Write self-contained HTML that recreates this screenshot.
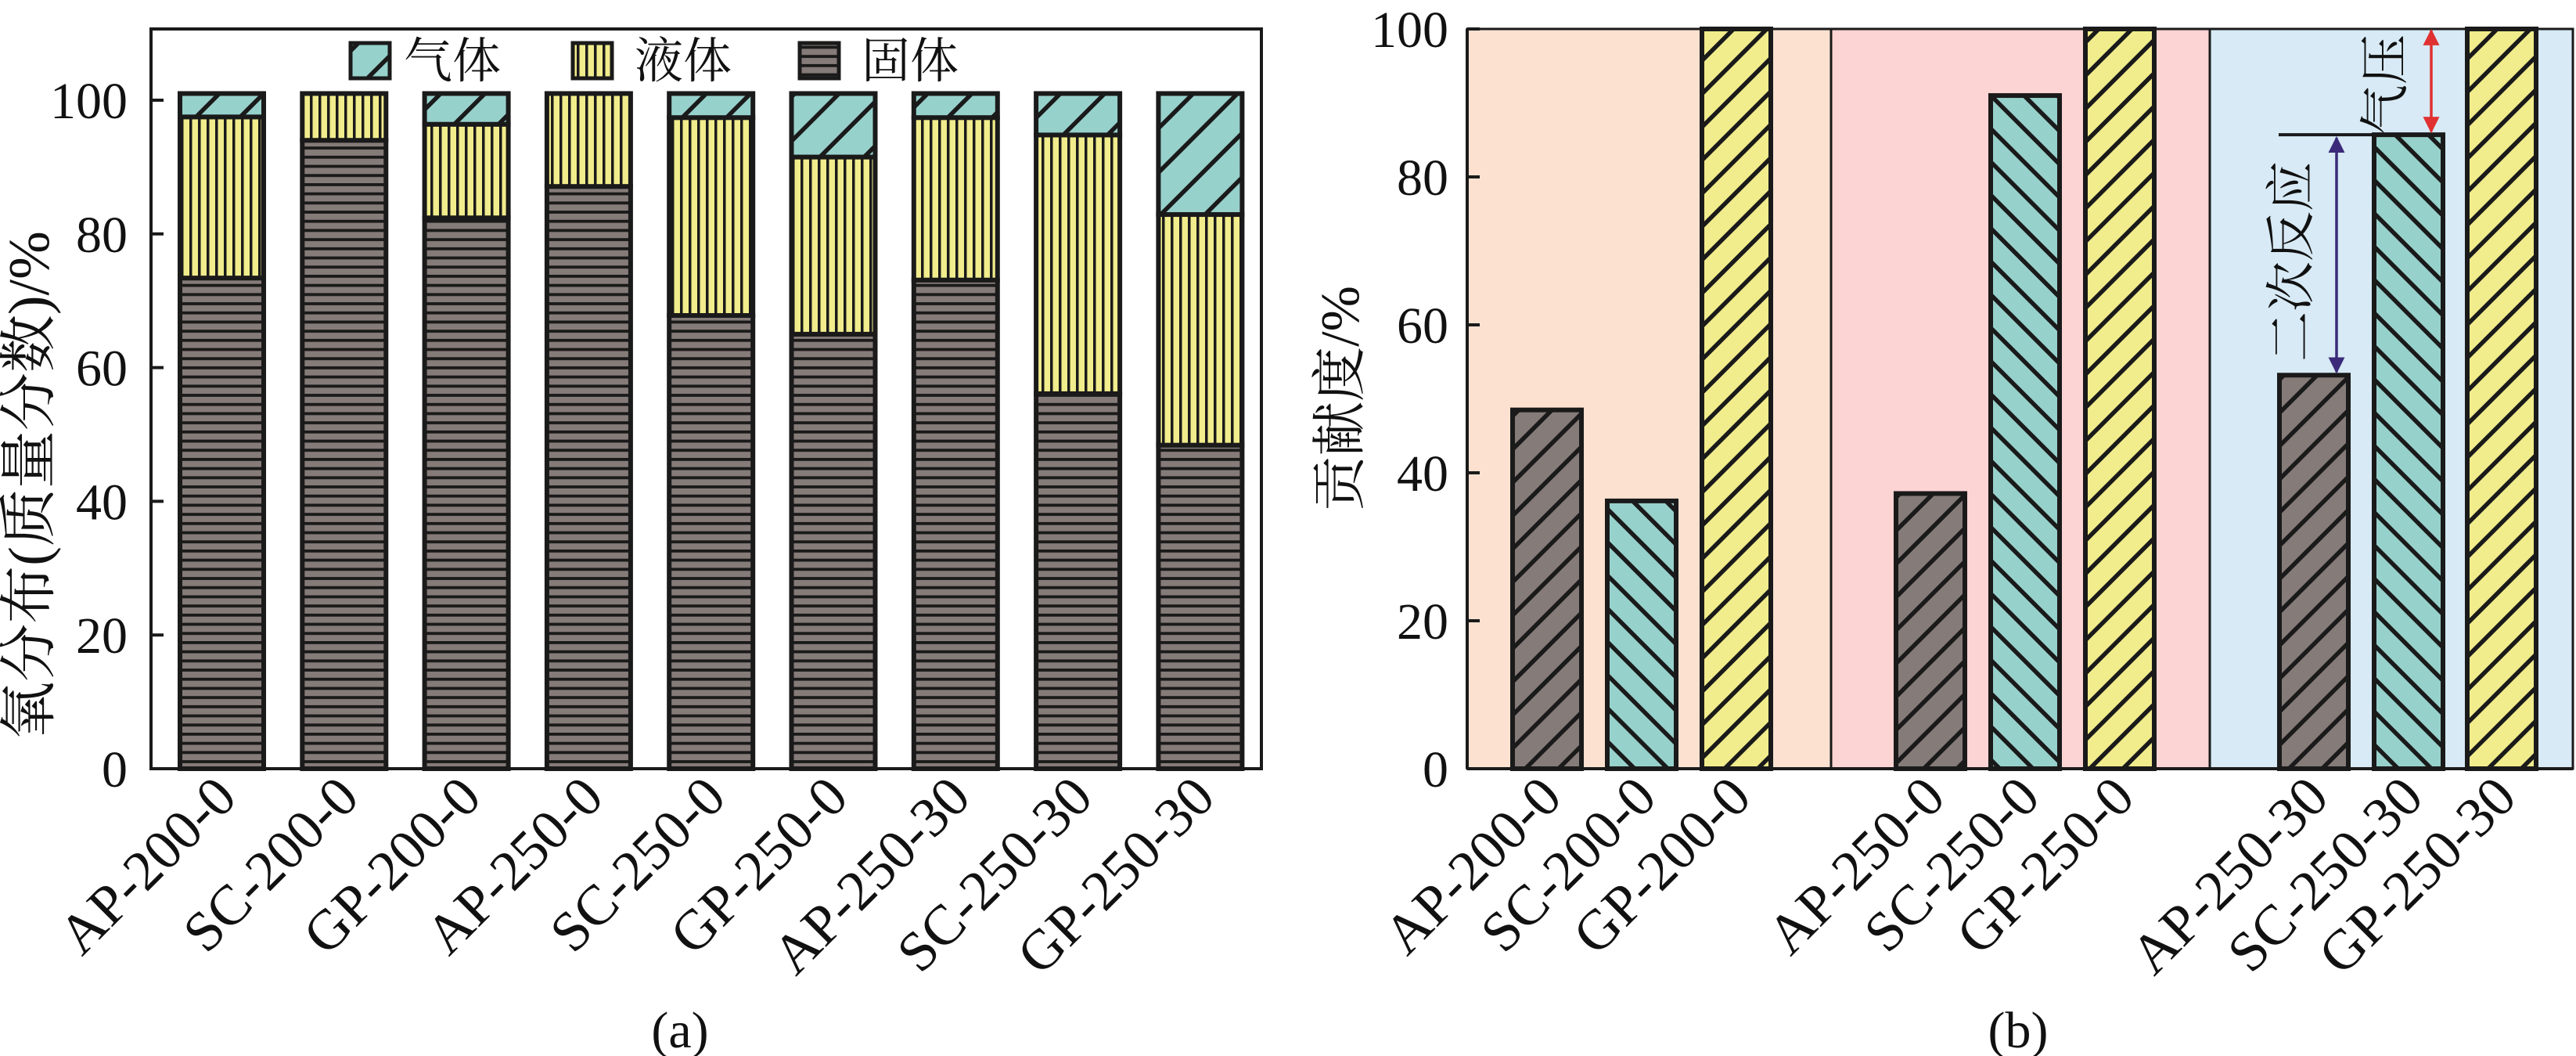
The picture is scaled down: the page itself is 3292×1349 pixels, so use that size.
<!DOCTYPE html>
<html><head><meta charset="utf-8"><style>
html,body{margin:0;padding:0;background:#fff;}
svg{display:block;}
text{font-family:"Liberation Serif","Noto Serif CJK SC",serif;fill:#111;}
</style></head><body>
<svg id="chart" width="3292" height="1349" viewBox="0 0 3292 1349" xmlns="http://www.w3.org/2000/svg">
<defs>
<pattern id="pSolid" patternUnits="userSpaceOnUse" width="12" height="11.7"><rect width="12" height="11.7" fill="#857b78"/><rect y="0" width="12" height="3.8" fill="#1a1a1a"/></pattern>
<pattern id="pLiquid" patternUnits="userSpaceOnUse" width="11" height="12"><rect width="11" height="12" fill="#f1ec8c"/><rect x="0" width="3.5" height="12" fill="#1a1a1a"/></pattern>
<pattern id="pGas" patternUnits="userSpaceOnUse" width="40" height="40" patternTransform="rotate(45)"><rect width="40" height="40" fill="#97d1cc"/><rect x="0" width="5.5" height="40" fill="#1a1a1a"/></pattern>
<pattern id="bGray" patternUnits="userSpaceOnUse" width="30" height="30" patternTransform="rotate(45)"><rect width="30" height="30" fill="#857b78"/><rect width="5.5" height="30" fill="#1a1a1a"/></pattern>
<pattern id="bTeal" patternUnits="userSpaceOnUse" width="30" height="30" patternTransform="rotate(-45)"><rect width="30" height="30" fill="#97d1cc"/><rect width="5.5" height="30" fill="#1a1a1a"/></pattern>
<pattern id="bYellow" patternUnits="userSpaceOnUse" width="30" height="30" patternTransform="rotate(45)"><rect width="30" height="30" fill="#f1ec8c"/><rect width="5.5" height="30" fill="#1a1a1a"/></pattern>
<marker id="arP" viewBox="0 0 10 10" refX="9" refY="5" markerWidth="6" markerHeight="7" orient="auto-start-reverse"><path d="M0,0 L10,5 L0,10 z" fill="#3b2a7a"/></marker>
<marker id="arR" viewBox="0 0 10 10" refX="9" refY="5" markerWidth="6" markerHeight="7" orient="auto-start-reverse"><path d="M0,0 L10,5 L0,10 z" fill="#e03030"/></marker>
</defs>
<g id="left"></g>
<g id="right"></g>
<text x="869" y="1338" font-size="66" text-anchor="middle">(a)</text>
<text x="2579" y="1338" font-size="66" text-anchor="middle">(b)</text>
</svg>
<script>
const NS="http://www.w3.org/2000/svg";
// ---- data (a)
const catsA=["AP-200-0","SC-200-0","GP-200-0","AP-250-0","SC-250-0","GP-250-0","AP-250-30","SC-250-30","GP-250-30"];
const solidA=[73.4,94,82.4,87.1,67.8,65,73.1,56.1,48.4];
const liquidA=[24.1,7,14,13.9,29.6,26.5,24.3,38.7,34.5];
const gasA=[3.5,0,4.6,0,3.6,9.5,3.6,6.2,18.1];
const ticksA=[0,20,40,60,80,100];
// ---- data (b)
const catsB=["AP-200-0","SC-200-0","GP-200-0","AP-250-0","SC-250-0","GP-250-0","AP-250-30","SC-250-30","GP-250-30"];
const valsB=[48.5,36.2,100,37.2,91,100,53.2,85.7,100];
const ticksB=[0,20,40,60,80,100];

function el(tag,attrs,parent,txt){const e=document.createElementNS(NS,tag);for(const k in attrs)e.setAttribute(k,attrs[k]);if(txt!==undefined)e.textContent=txt;parent.appendChild(e);return e;}

// ---- chart a
const L=document.getElementById('left');
const aX0=193,aX1=1612,aTop=37,aBot=982,a100=128;
const yA=v=>aBot-(aBot-a100)*v/100;
const xA=i=>283.5+156.3*i;
const bwA=113;
let r=el('rect',{x:aX0,y:aTop,width:aX1-aX0,height:aBot-aTop,fill:'none',stroke:'#1a1a1a','stroke-width':4},L);


ticksA.forEach(t=>{
  const tk=el('line',{x1:aX0,x2:aX0+16,y1:yA(t),y2:yA(t),stroke:'#1a1a1a','stroke-width':4},L);
  
  
  const tl=el('text',{x:aX0-30,y:yA(t)+23,'font-size':66,'text-anchor':'end'},L,String(t));
  
  
});
catsA.forEach((c,i)=>{
  const cx=xA(i);let base=0;
  [[solidA[i],'url(#pSolid)','solid'],[liquidA[i],'url(#pLiquid)','liquid'],[gasA[i],'url(#pGas)','gas']].forEach(([v,f,n])=>{
    if(v<=0)return;
    const y1=yA(base+v),y0=yA(base);
    const b=el('rect',{x:cx-bwA/2+3,y:y1,width:bwA-6,height:y0-y1,fill:f,stroke:'#1a1a1a','stroke-width':6},L);
    
    
    base+=v;
  });
  const t=el('text',{x:cx+22,y:1022,'font-size':72,'text-anchor':'end',transform:`rotate(-45 ${cx+22} 1022)`},L,c);
  
  
});
const yt=el('text',{x:0,y:0,'font-size':74,'text-anchor':'middle',transform:'translate(62 620) rotate(-90)'},L,'氧分布(质量分数)/%');


// legend
const leg=[['url(#pGas)','气体',448,516],['url(#pLiquid)','液体',732,811],['url(#pSolid)','固体',1022,1101]];
leg.forEach(([f,lab,sx,tx])=>{
  const s=el('rect',{x:sx,y:55,width:50,height:45,fill:f,stroke:'#1a1a1a','stroke-width':5},L);
  
  
  const t=el('text',{x:tx,y:99,'font-size':62},L,lab);
  
  
});

// ---- chart b
const R=document.getElementById('right');
const bX0=1875,bX1=3288,bTop=37,bBot=982;
const yB=v=>bBot-(bBot-bTop)*v/100;
const xB=[1977,2098,2219,2467,2588,2709,2957,3078,3197];
const bwB=88;
const bands=[[bX0,2340,'#fce1d0'],[2340,2824,'#fcd4d3'],[2824,bX1,'#d7eaf5']];
bands.forEach(([a,b,c])=>{
  const g=el('rect',{x:a,y:bTop,width:b-a,height:bBot-bTop,fill:c,stroke:'#1a1a1a','stroke-width':3},R);
  
  
});
ticksB.forEach(t=>{
  const tk=el('line',{x1:bX0,x2:bX0+16,y1:yB(t),y2:yB(t),stroke:'#1a1a1a','stroke-width':4},R);
  
  
  const tl=el('text',{x:bX0-24,y:yB(t)+23,'font-size':66,'text-anchor':'end'},R,String(t));
  
  
});
const fills=['url(#bGray)','url(#bTeal)','url(#bYellow)'];
catsB.forEach((c,i)=>{
  const cx=xB[i],y1=yB(valsB[i]);
  const b=el('rect',{x:cx-bwB/2,y:y1,width:bwB,height:bBot-y1,fill:fills[i%3],stroke:'#1a1a1a','stroke-width':6},R);
  
  
  const t=el('text',{x:cx+22,y:1022,'font-size':72,'text-anchor':'end',transform:`rotate(-45 ${cx+22} 1022)`},R,c);
  
  
});
let ax=el('line',{x1:bX0,x2:bX1,y1:bBot,y2:bBot,stroke:'#1a1a1a','stroke-width':4},R);


ax=el('line',{x1:bX0,x2:bX0,y1:bTop,y2:bBot,stroke:'#1a1a1a','stroke-width':4},R);


// annotations
const yRef=yB(valsB[7]);
let ln=el('line',{x1:2912,x2:xB[7],y1:yRef,y2:yRef,stroke:'#1a1a1a','stroke-width':4},R);


ln=el('line',{x1:2986,x2:2986,y1:yB(valsB[6])-4,y2:yRef+4,stroke:'#3b2a7a','stroke-width':3.5,'marker-start':'url(#arP)','marker-end':'url(#arP)'},R);


ln=el('line',{x1:3107,x2:3107,y1:yB(100)+2,y2:yRef-4,stroke:'#e03030','stroke-width':3.5,'marker-start':'url(#arR)','marker-end':'url(#arR)'},R);


let at=el('text',{x:0,y:0,'font-size':64,'text-anchor':'middle',transform:'translate(3070 108) rotate(-90)'},R,'气压');


at=el('text',{x:0,y:0,'font-size':64,'text-anchor':'middle',transform:'translate(2950 334) rotate(-90)'},R,'二次反应');


const ytb=el('text',{x:0,y:0,'font-size':70,'text-anchor':'middle',transform:'translate(1736 509) rotate(-90)'},R,'贡献度/%');


</script>
</body></html>
